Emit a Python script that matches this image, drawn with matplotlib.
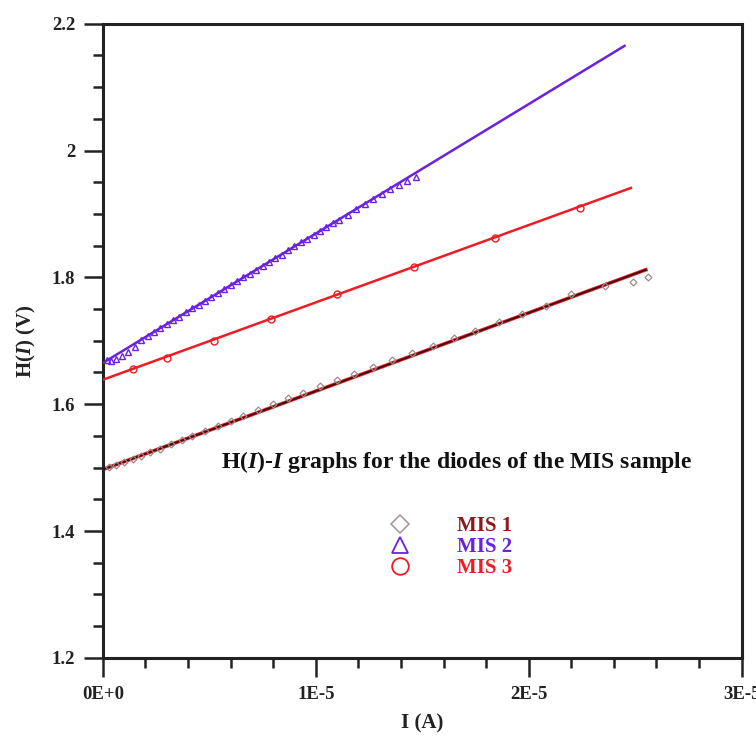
import matplotlib
matplotlib.use('Agg')
import matplotlib.pyplot as plt
from matplotlib.lines import Line2D
from matplotlib.ticker import MultipleLocator, FixedLocator

plt.rcParams['font.family'] = 'Liberation Serif'
plt.rcParams['font.weight'] = 'bold'
plt.rcParams['mathtext.fontset'] = 'custom'
plt.rcParams['mathtext.it'] = 'Liberation Serif:italic:bold'
plt.rcParams['mathtext.rm'] = 'Liberation Serif:bold'

# current in units of 1E-5 A
mis1_i = [0.03, 0.06, 0.10, 0.14, 0.18, 0.22, 0.27, 0.32, 0.37, 0.42, 0.48, 0.54,
          0.60, 0.66, 0.73, 0.80, 0.87, 0.94, 1.02, 1.10, 1.18, 1.27, 1.36, 1.45,
          1.55, 1.65, 1.75, 1.86, 1.97, 2.08, 2.20, 2.36, 2.49, 2.56]
mis1_h = [1.501, 1.504, 1.509, 1.514, 1.519, 1.524, 1.530, 1.537, 1.543, 1.550, 1.558, 1.566,
          1.574, 1.582, 1.591, 1.600, 1.609, 1.618, 1.628, 1.638, 1.648, 1.659, 1.670, 1.680,
          1.692, 1.704, 1.716, 1.729, 1.742, 1.755, 1.774, 1.787, 1.792, 1.801]

mis2_i = [0.02, 0.04, 0.06, 0.09, 0.12, 0.15, 0.18, 0.21, 0.24, 0.27, 0.30, 0.33, 0.36,
          0.39, 0.42, 0.45, 0.48, 0.51, 0.54, 0.57, 0.60, 0.63, 0.66, 0.69, 0.72, 0.75,
          0.78, 0.81, 0.84, 0.87, 0.90, 0.93, 0.96, 0.99, 1.02, 1.05, 1.08, 1.11, 1.15,
          1.19, 1.23, 1.27, 1.31, 1.35, 1.39, 1.43, 1.47]
mis2_h = [1.669, 1.668, 1.671, 1.676, 1.683, 1.690, 1.701, 1.708, 1.714, 1.720, 1.726, 1.732,
          1.738, 1.745, 1.751, 1.757, 1.763, 1.769, 1.775, 1.781, 1.788, 1.794, 1.800, 1.806,
          1.812, 1.818, 1.824, 1.830, 1.836, 1.843, 1.849, 1.855, 1.861, 1.867, 1.873, 1.879,
          1.885, 1.891, 1.899, 1.907, 1.915, 1.924, 1.931, 1.939, 1.946, 1.952, 1.958]

mis3_i = [0.14, 0.30, 0.52, 0.79, 1.10, 1.46, 1.84, 2.24]
mis3_h = [1.656, 1.673, 1.699, 1.735, 1.774, 1.816, 1.862, 1.910]

# fitted lines: (I start, I end), (H start, H end)
fit1_i = [0.0, 2.55]
fit1_h = [1.497, 1.812]
fit2_i = [0.0, 2.45]
fit2_h = [1.665, 2.165]
fit3_i = [0.0, 2.48]
fit3_h = [1.6385, 1.941]

x_ticks = [0, 1e-5, 2e-5, 3e-5]
x_tick_labels = ['0E+0', '1E-5', '2E-5', '3E-5']
y_ticks = [1.2, 1.4, 1.6, 1.8, 2.0, 2.2]
y_tick_labels = ['1.2', '1.4', '1.6', '1.8', '2', '2.2']

c1_line = '#3a0f0f'
c1_mark = '#a08888'
c2 = '#6a22e0'
c3 = '#ee1c24'

fig = plt.figure(figsize=(7.56, 7.4), dpi=100)
ax = fig.add_axes([0.136, 0.111, 0.845, 0.857])

s = 1e-5
ax.plot([v * s for v in fit1_i], fit1_h, color=c3, lw=2.6, zorder=2)
ax.plot([v * s for v in fit1_i], fit1_h, color=c1_line, lw=1.3, zorder=3)
ax.plot([v * s for v in fit2_i], fit2_h, color=c2, lw=1.8, zorder=3)
ax.plot([v * s for v in fit3_i], fit3_h, color=c3, lw=1.8, zorder=3)

ax.plot([v * s for v in mis1_i], mis1_h, ls='none', marker='D', ms=3.5, mfc='none',
        mec=c1_mark, mew=0.9, zorder=4)
ax.plot([v * s for v in mis2_i], mis2_h, ls='none', marker='^', ms=5, mfc='none',
        mec=c2, mew=1.0, zorder=4)
ax.plot([v * s for v in mis3_i], mis3_h, ls='none', marker='o', ms=5, mfc='none',
        mec=c3, mew=1.0, zorder=4)

ax.set_xlim(0, 3e-5)
ax.set_ylim(1.2, 2.2)
ax.xaxis.set_major_locator(FixedLocator(x_ticks))
ax.set_xticklabels(x_tick_labels)
ax.xaxis.set_minor_locator(MultipleLocator(0.2e-5))
ax.yaxis.set_major_locator(FixedLocator(y_ticks))
ax.set_yticklabels(y_tick_labels)
ax.yaxis.set_minor_locator(MultipleLocator(0.05))

ax.tick_params(which='major', direction='out', length=14, width=1.8, labelsize=13.5,
               colors='#222222', pad=6)
ax.tick_params(which='minor', direction='out', length=7, width=1.8, colors='#222222')
for sp in ax.spines.values():
    sp.set_linewidth(2.2)
    sp.set_color('#222222')

ax.set_xlabel('I (A)', fontsize=15, fontweight='bold', labelpad=8, color='#222222')
ax.set_ylabel('H($\\mathit{I}$) (V)', fontsize=15, fontweight='bold', labelpad=10,
              color='#222222')

ax.text(0.923, 0.309, 'H($\\mathit{I}$)-$\\mathit{I}$ graphs for the diodes of the MIS sample',
        transform=ax.transAxes, ha='right', va='center', fontsize=17, fontweight='bold',
        color='#111111')

handles = [
    Line2D([], [], ls='none', marker='D', ms=9, mfc='none', mec='#a89a9a', mew=1.2),
    Line2D([], [], ls='none', marker='^', ms=11, mfc='none', mec=c2, mew=1.3),
    Line2D([], [], ls='none', marker='o', ms=12, mfc='none', mec=c3, mew=1.3),
]
labels = ['MIS 1', 'MIS 2', 'MIS 3']
leg = ax.legend(handles, labels, loc='center left', bbox_to_anchor=(0.42, 0.175),
                frameon=False, fontsize=15, handletextpad=2.2, labelspacing=0.05,
                handlelength=1.0)
for t, c in zip(leg.get_texts(), ['#8b1a1a', c2, c3]):
    t.set_color(c)
    t.set_fontweight('bold')

fig.savefig('out.png', dpi=100)
